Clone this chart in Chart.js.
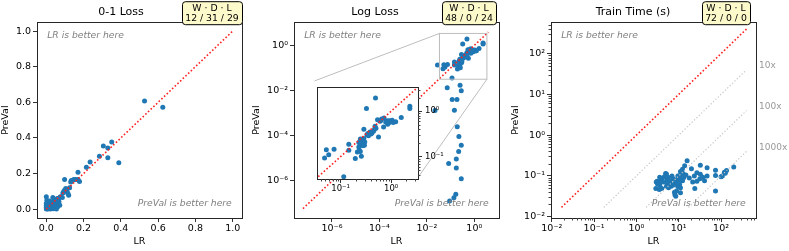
<!DOCTYPE html>
<html>
<head>
<meta charset="utf-8">
<script src="https://cdn.jsdelivr.net/npm/chart.js@4"></script>
<style>
  body { margin: 0; background: #fff; }
  #wrap { position: relative; width: 789px; height: 251px; }
  canvas { position: absolute; top: 0; }
</style>
</head>
<body>
<div id="wrap">
  <canvas id="zero-one" width="251" height="251" style="left:0px"></canvas>
  <canvas id="log-loss" width="259" height="251" style="left:251px"></canvas>
  <canvas id="train-time" width="279" height="251" style="left:510px"></canvas>
  <canvas id="log-loss-inset"></canvas>
</div>
<script>
// Values (one point per dataset, LR on x, PreVal on y)

const panelTitles = ['0-1 Loss', 'Log Loss', 'Train Time (s)'];
const axisTitles = ['LR', 'PreVal'];
const cornerNotes = ['LR is better here', 'PreVal is better here'];
const wdlHeader = 'W \u00b7 D \u00b7 L';
const wdlCounts = ['12 / 31 / 29', '48 / 0 / 24', '72 / 0 / 0'];

// 0-1 Loss
const zeroOneLR = [
  0.527, 0.625, 0.351, 0.306, 0.330, 0.285, 0.330, 0.389, 0.235, 0.215,
  0.170, 0.098, 0.134, 0.147, 0.158, 0.170, 0.178, 0.131, 0.098, 0.111,
  0.089, 0.116, 0.120, 0.086, 0.104, 0.094, 0.000, 0.035, 0.045, 0.054,
  0.062, 0.003, 0.014, 0.000, 0.009, 0.022, 0.035, 0.050, 0.057, 0.068,
  0.002, 0.020, 0.034, 0.047, 0.061, 0.072, 0.000, 0.009, 0.022, 0.036,
  0.054, 0.000, 0.010, 0.015, 0.020, 0.025, 0.030, 0.040, 0.005, 0.045,
  0.050, 0.005, 0.012, 0.028, 0.042, 0.018, 0.065, 0.075, 0.125, 0.000,
  0.008, 0.060
];
const zeroOnePreVal = [
  0.608, 0.572, 0.377, 0.354, 0.343, 0.297, 0.289, 0.261, 0.265, 0.235,
  0.207, 0.166, 0.160, 0.166, 0.166, 0.166, 0.155, 0.152, 0.106, 0.099,
  0.091, 0.088, 0.078, 0.065, 0.116, 0.100, 0.069, 0.065, 0.056, 0.050,
  0.060, 0.050, 0.041, 0.032, 0.026, 0.032, 0.035, 0.035, 0.032, 0.041,
  0.013, 0.013, 0.013, 0.013, 0.013, 0.021, 0.000, 0.002, 0.000, 0.002,
  0.000, 0.020, 0.010, 0.015, 0.020, 0.025, 0.030, 0.040, 0.005, 0.045,
  0.050, 0.035, 0.022, 0.008, 0.024, 0.046, 0.055, 0.070, 0.120, 0.010,
  0.000, 0.060
];
const zeroOneRange = [-0.05, 1.05];
const zeroOneTicks = [0, 0.2, 0.4, 0.6, 0.8, 1.0];
const zeroOneDiag = [0, 1];

// Log Loss
const logLossLR = [
  0.490, 0.324, 2.344, 2.344, 1.585, 0.537, 0.646, 0.724, 0.617, 0.851,
  0.933, 1.047, 0.851, 0.891, 0.708, 0.479, 0.468, 0.447, 0.288, 0.380,
  0.347, 0.398, 0.331, 0.355, 0.417, 0.562, 0.288, 0.263, 0.245, 0.229,
  0.257, 0.251, 0.295, 0.275, 0.229, 0.234, 0.245, 0.214, 0.145, 0.145,
  0.052, 0.074, 0.058, 0.048, 0.195, 0.257, 0.115, 1.096, 1.230, 0.028,
  0.600, 0.500, 0.780, 0.300,
  0.072, 0.282, 0.251, 0.117, 0.186, 0.022, 0.145, 0.191, 0.224, 0.282,
  0.219, 0.174, 0.083, 0.174, 0.282, 0.166, 0.138, 0.091
];
const logLossPreVal = [
  1.950, 1.148, 1.288, 1.148, 0.724, 0.646, 0.676, 0.708, 0.617, 0.617,
  0.617, 0.631, 0.513, 0.550, 0.447, 0.468, 0.398, 0.363, 0.398, 0.347,
  0.324, 0.316, 0.302, 0.288, 0.331, 0.269, 0.251, 0.240, 0.245, 0.204,
  0.209, 0.182, 0.178, 0.174, 0.162, 0.138, 0.129, 0.126, 0.186, 0.138,
  0.141, 0.145, 0.110, 0.093, 0.091, 0.102, 0.036, 0.562, 0.589, 0.135,
  0.600, 0.420, 0.580, 0.210,
  0.0135, 0.0100, 0.0174, 0.0041, 0.0041, 0.00132, 0.00135, 0.000251, 0.000093, 0.000038,
  0.0000204, 0.0000095, 0.0000059, 0.0000038, 0.00000126, 0.000000257, 0.000000182, 0.000000129
];
const logLossRangeX = [2.5e-8, 11];
const logLossRangeY = [2.3e-8, 10.7];
const logLossTicks = [1e-6, 1e-4, 1e-2, 1];
const logLossDiag = [6e-8, 3.9];
const insetRangeX = [0.034, 3.4];
const insetRangeY = [0.032, 3.4];
const insetTicks = [0.1, 1];

// Train Time (s)
const trainTimeLR = [
  15.8, 32.4, 46.8, 74.1, 134.9, 120.2, 199.5, 74.1, 107.2, 74.1,
  46.8, 32.4, 26.9, 23.4, 31.6, 26.9, 40.7, 24.0, 20.0, 12.3,
  11.0, 12.6, 10.5, 9.55, 11.5, 13.2, 12.3, 10.2, 8.91, 8.32,
  10.5, 9.55, 11.0, 8.91, 11.0, 8.13, 6.92, 7.41, 5.75, 6.31,
  5.37, 5.13, 6.31, 4.90, 4.07, 3.72, 4.27, 3.47, 3.09, 5.13,
  5.75, 6.61, 2.95, 3.16, 3.55, 2.88, 3.47, 3.98, 7.94, 8.51,
  3.55, 5.13, 14.8, 17.8, 21.4, 37.2, 100.0, 125.9, 10.0, 4.57,
  13.8, 7.59
];
const trainTimePreVal = [
  0.234, 0.182, 0.158, 0.138, 0.135, 0.123, 0.166, 0.102, 0.100, 0.0427,
  0.100, 0.110, 0.120, 0.100, 0.0851, 0.0741, 0.0759, 0.0490, 0.151, 0.145,
  0.129, 0.115, 0.102, 0.100, 0.0955, 0.0912, 0.0759, 0.0813, 0.0794, 0.0676,
  0.0617, 0.0550, 0.0513, 0.0427, 0.0389, 0.0347, 0.100, 0.0851, 0.0912, 0.0741,
  0.0813, 0.0676, 0.0631, 0.115, 0.0851, 0.0794, 0.0708, 0.0676, 0.0741, 0.0550,
  0.0513, 0.0562, 0.0708, 0.0631, 0.0589, 0.0490, 0.0468, 0.0490, 0.0398, 0.0316,
  0.0933, 0.112, 0.105, 0.0891, 0.0708, 0.0933, 0.0955, 0.117, 0.0708, 0.0955,
  0.178, 0.0603
];
const trainTimeRangeX = [0.0096, 670];
const trainTimeRangeY = [0.0093, 588];
const trainTimeTicks = [0.01, 0.1, 1, 10, 100];
const trainTimeDiag = [0.017, 400];
const speedupFactors = [10, 100, 1000];

Chart.defaults.font.family = "'DejaVu Sans', sans-serif";
Chart.defaults.color = '#000';

// supExp
// Turns a power of ten into a label like 10⁻²
function supExp(v) {
  const sup = { '-': '\u207b', '0': '\u2070', '1': '\u00b9', '2': '\u00b2', '3': '\u00b3', '4': '\u2074',
                '5': '\u2075', '6': '\u2076', '7': '\u2077', '8': '\u2078', '9': '\u2079' };
  const e = String(Math.round(Math.log10(v)));
  return '10' + e.split('').map(c => sup[c]).join('');
}

// logMinors
// 2..9 x 10^n inside [min, max], used for the small ticks
function logMinors(min, max) {
  const out = [];
  for (let e = Math.floor(Math.log10(min)); e <= Math.ceil(Math.log10(max)); e++) {
    for (let m = 2; m <= 9; m++) {
      const v = m * Math.pow(10, e);
      if (v >= min && v <= max) out.push(v);
    }
  }
  return out;
}

// insetBox
// Where the zoomed inset sits inside the Log Loss axes (axes fractions)
function insetBox(a) {
  const w = a.right - a.left, h = a.bottom - a.top;
  return { left: a.left + 0.1 * w, top: a.top + 0.3 * h, width: 0.5 * w, height: 0.5 * h };
}

// panelDecor
// Frame, minor ticks, corner notes, W-D-L badge, speedup labels and the zoom marker
const panelDecor = {
  id: 'panelDecor',
  beforeDraw(chart, args, opts) {
    if (!opts.whiteBack) return;
    const a = chart.chartArea;
    chart.ctx.save();
    chart.ctx.fillStyle = '#fff';
    chart.ctx.fillRect(a.left, a.top, a.right - a.left, a.bottom - a.top);
    chart.ctx.restore();
  },
  afterDatasetsDraw(chart, args, opts) {
    if (!opts.zoomMark) return;
    const { ctx, chartArea: a } = chart;
    const xs = chart.scales.x, ys = chart.scales.y;
    const x0 = xs.getPixelForValue(insetRangeX[0]), x1 = xs.getPixelForValue(insetRangeX[1]);
    const y0 = ys.getPixelForValue(insetRangeY[0]), y1 = ys.getPixelForValue(insetRangeY[1]);
    const box = insetBox(a);
    ctx.save();
    ctx.strokeStyle = '#bdbdbd';
    ctx.lineWidth = 1;
    ctx.strokeRect(x0, y1, x1 - x0, y0 - y1);
    ctx.beginPath();
    ctx.moveTo(box.left, box.top);
    ctx.lineTo(x0, y1);
    ctx.moveTo(box.left + box.width, box.top + box.height);
    ctx.lineTo(x1, y0);
    ctx.stroke();
    ctx.restore();
  },
  afterDraw(chart, args, opts) {
    const { ctx, chartArea: a } = chart;
    const w = a.right - a.left, h = a.bottom - a.top;
    ctx.save();

    // axes frame
    ctx.strokeStyle = '#262626';
    ctx.lineWidth = 1;
    ctx.strokeRect(Math.round(a.left) + 0.5, Math.round(a.top) + 0.5, Math.round(w), Math.round(h));

    // minor ticks on log axes
    ctx.strokeStyle = '#444';
    (opts.minor || []).forEach(id => {
      const s = chart.scales[id];
      logMinors(s.min, s.max).forEach(v => {
        const p = Math.round(s.getPixelForValue(v)) + 0.5;
        ctx.beginPath();
        if (s.position === 'bottom') { ctx.moveTo(p, a.bottom); ctx.lineTo(p, a.bottom + 2.5); }
        else if (s.position === 'left') { ctx.moveTo(a.left, p); ctx.lineTo(a.left - 2.5, p); }
        else { ctx.moveTo(a.right, p); ctx.lineTo(a.right + 2.5, p); }
        ctx.stroke();
      });
    });

    // "better here" notes
    if (opts.notes) {
      ctx.font = "italic 9.2px 'DejaVu Sans'";
      ctx.fillStyle = '#7f7f7f';
      ctx.textBaseline = 'middle';
      ctx.textAlign = 'left';
      ctx.fillText(cornerNotes[0], a.left + 0.05 * w, a.top + 0.07 * h);
      ctx.textAlign = 'right';
      ctx.fillText(cornerNotes[1], a.right - 0.05 * w, a.bottom - 0.075 * h);
    }

    // 10x / 100x / 1000x next to the grey guide lines
    if (opts.speedup) {
      ctx.font = "9px 'DejaVu Sans'";
      ctx.fillStyle = '#999';
      ctx.textAlign = 'left';
      ctx.textBaseline = 'middle';
      opts.speedup.factors.forEach(k => {
        const y = chart.scales.y.getPixelForValue(opts.speedup.top / k) - 4;
        ctx.fillText(k + 'x', a.right + 3, y);
      });
    }

    // W · D · L badge
    if (opts.badge) {
      const cx = a.right - 30;
      ctx.font = "9.3px 'DejaVu Sans'";
      const lines = [wdlHeader, opts.badge];
      const tw = Math.max(...lines.map(t => ctx.measureText(t).width));
      const bx = Math.round(cx - tw / 2 - 3) + 0.5, by = a.top - 21 + 0.5, bw = Math.round(tw + 6), bh = 23;
      ctx.beginPath();
      if (ctx.roundRect) ctx.roundRect(bx, by, bw, bh, 3); else ctx.rect(bx, by, bw, bh);
      ctx.fillStyle = '#fcf9cb';
      ctx.fill();
      ctx.strokeStyle = '#000';
      ctx.lineWidth = 1;
      ctx.stroke();
      ctx.fillStyle = '#000';
      ctx.textAlign = 'center';
      ctx.textBaseline = 'middle';
      ctx.fillText(lines[0], cx, by + 6.5);
      ctx.fillText(lines[1], cx, by + 17);
    }
    ctx.restore();
  }
};

// buildAxis
// One axis with fixed size, hand-picked major ticks and matplotlib-like tick marks
function buildAxis(opt) {
  return {
    type: opt.type,
    position: opt.position,
    min: opt.range[0],
    max: opt.range[1],
    afterBuildTicks: axis => { axis.ticks = opt.ticks.map(v => ({ value: v })); },
    afterFit: axis => {
      if (axis.isHorizontal()) axis.height = opt.size; else axis.width = opt.size;
    },
    grid: { drawOnChartArea: false, tickLength: 4, tickWidth: 1, tickColor: '#333' },
    border: { display: false },
    ticks: {
      autoSkip: false, maxRotation: 0, minRotation: 0,
      padding: opt.tickPad,
      font: { size: opt.fontSize || 9.5 },
      callback: opt.type === 'logarithmic' ? v => supExp(v) : v => v.toFixed(1)
    },
    title: opt.title
      ? { display: true, text: opt.title, font: { size: 9.5 }, padding: opt.titlePad }
      : { display: false }
  };
}

// diagDataset
// Dotted y = x / k guide line between two LR values
function diagDataset(lo, hi, k, color, width) {
  return {
    data: [{ x: lo * k, y: lo }, { x: hi, y: hi / k }],
    showLine: true,
    borderColor: color,
    borderWidth: width,
    borderDash: [width, 2.1],
    pointRadius: 0,
    fill: false,
    clip: 0
  };
}

function pointDataset(xs, ys) {
  return {
    data: xs.map((x, i) => ({ x: x, y: ys[i] })),
    backgroundColor: '#1f77b4',
    borderWidth: 0,
    pointRadius: 2.5,
    clip: 0
  };
}

// panelChart
// One of the three subplots
function panelChart(canvasId, cfg) {
  return new Chart(document.getElementById(canvasId), {
    type: 'scatter',
    data: { datasets: [...cfg.lines, pointDataset(cfg.lr, cfg.preval)] },
    options: {
      responsive: false,
      animation: false,
      devicePixelRatio: 1,
      events: [],
      layout: { padding: { left: 0, top: 0, bottom: 0, right: cfg.padRight } },
      plugins: {
        legend: { display: false },
        tooltip: { enabled: false },
        title: { display: true, text: cfg.title, font: { size: 11, weight: 'normal' }, padding: { top: 6, bottom: 3 } },
        panelDecor: { notes: true, badge: cfg.wdl, minor: cfg.minor, speedup: cfg.speedup, zoomMark: cfg.zoomMark }
      },
      scales: {
        x: buildAxis({ type: cfg.type, position: 'bottom', range: cfg.rangeX, ticks: cfg.ticks, size: 33,
                       tickPad: 1, title: axisTitles[0], titlePad: { top: 0, bottom: 3.6 } }),
        y: buildAxis({ type: cfg.type, position: 'left', range: cfg.rangeY, ticks: cfg.ticks, size: cfg.left,
                       tickPad: 2, title: axisTitles[1], titlePad: { top: 0.3, bottom: 0 } })
      }
    },
    plugins: [panelDecor]
  });
}

// buildInset
// Zoomed view of the Log Loss cluster, laid over the main axes
function buildInset(main, mainLeft) {
  const box = insetBox(main.chartArea);
  const pad = 2;
  const canvas = document.getElementById('log-loss-inset');
  canvas.width = Math.round(box.width) + pad + 28;
  canvas.height = Math.round(box.height) + pad + 16;
  canvas.style.left = (Math.round(mainLeft + box.left) - pad) + 'px';
  canvas.style.top = (Math.round(box.top) - pad) + 'px';
  return new Chart(canvas, {
    type: 'scatter',
    data: { datasets: [diagDataset(logLossDiag[0], logLossDiag[1], 1, '#ff2020', 1.6),
                       pointDataset(logLossLR, logLossPreVal)] },
    options: {
      responsive: false,
      animation: false,
      devicePixelRatio: 1,
      events: [],
      layout: { padding: { left: pad, top: pad, right: 0, bottom: 0 } },
      plugins: {
        legend: { display: false },
        tooltip: { enabled: false },
        title: { display: false },
        panelDecor: { whiteBack: true, minor: ['x', 'y'] }
      },
      scales: {
        x: buildAxis({ type: 'logarithmic', position: 'bottom', range: insetRangeX, ticks: insetTicks,
                       size: 16, tickPad: 1, fontSize: 8.5 }),
        y: buildAxis({ type: 'logarithmic', position: 'right', range: insetRangeY, ticks: insetTicks,
                       size: 28, tickPad: 3, fontSize: 8.5 })
      }
    },
    plugins: [panelDecor]
  });
}

panelChart('zero-one', {
  type: 'linear', title: panelTitles[0], wdl: wdlCounts[0],
  lr: zeroOneLR, preval: zeroOnePreVal,
  rangeX: zeroOneRange, rangeY: zeroOneRange, ticks: zeroOneTicks,
  lines: [diagDataset(zeroOneDiag[0], zeroOneDiag[1], 1, '#ff2020', 1.6)],
  left: 37, padRight: 9
});

const logLossChart = panelChart('log-loss', {
  type: 'logarithmic', title: panelTitles[1], wdl: wdlCounts[1],
  lr: logLossLR, preval: logLossPreVal,
  rangeX: logLossRangeX, rangeY: logLossRangeY, ticks: logLossTicks,
  lines: [diagDataset(logLossDiag[0], logLossDiag[1], 1, '#ff2020', 1.6)],
  zoomMark: true,
  left: 43, padRight: 11
});
buildInset(logLossChart, 251);

panelChart('train-time', {
  type: 'logarithmic', title: panelTitles[2], wdl: wdlCounts[2],
  lr: trainTimeLR, preval: trainTimePreVal,
  rangeX: trainTimeRangeX, rangeY: trainTimeRangeY, ticks: trainTimeTicks,
  lines: [diagDataset(trainTimeDiag[0], trainTimeDiag[1], 1, '#ff2020', 1.6)]
    .concat(speedupFactors.map(k => diagDataset(trainTimeDiag[0], trainTimeDiag[1], k, '#c4c4c4', 1.2))),
  minor: ['x', 'y'],
  speedup: { factors: speedupFactors, top: trainTimeDiag[1] },
  left: 41, padRight: 33
});
</script>
</body>
</html>
